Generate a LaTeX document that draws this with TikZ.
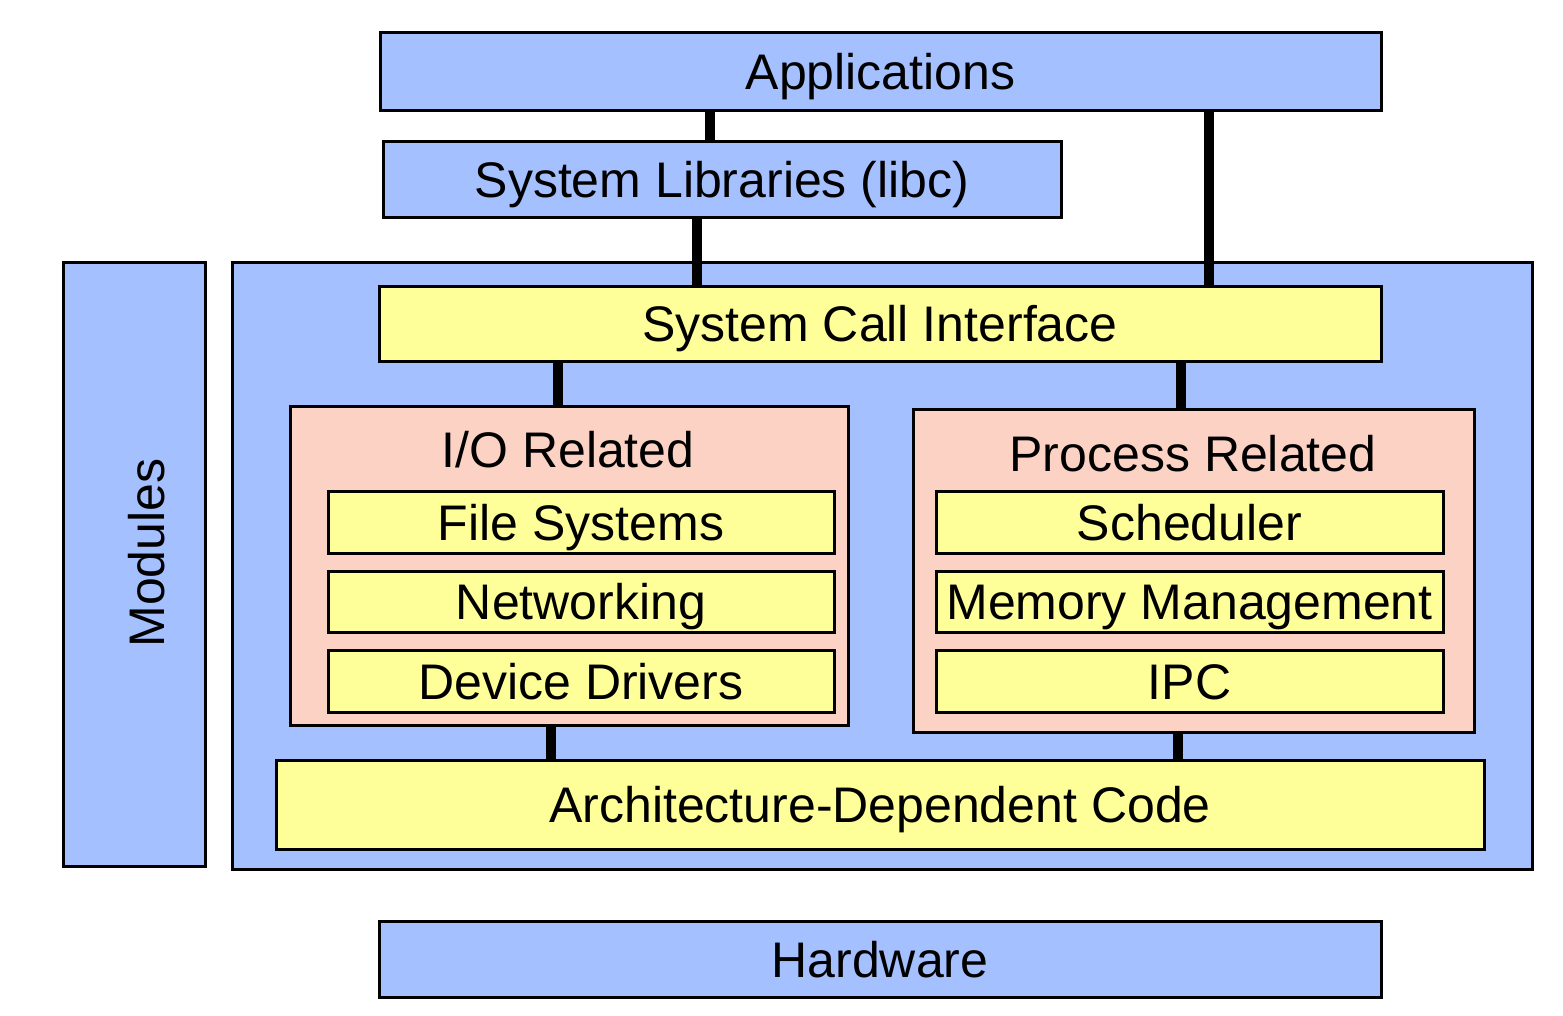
\documentclass[tikz,border=0pt]{standalone}
\usepackage{fontspec}
\setmainfont{Liberation Sans}
\usepackage{tikz}
\usetikzlibrary{positioning}
\definecolor{layerblue}{HTML}{A4C0FF}
\definecolor{groupsalmon}{HTML}{FCD2C4}
\definecolor{partyellow}{HTML}{FFFF99}

\begin{document}
\begin{tikzpicture}[x=1pt,y=-1pt,
    box/.style={draw=black,line width=3pt,inner sep=0pt,text height=36pt,text depth=0pt,font=\fontsize{50}{55}\selectfont},
    bluebox/.style={box,fill=layerblue},
    salmonbox/.style={box,fill=groupsalmon},
    yellowbox/.style={box,fill=partyellow},
    link/.style={line width=10pt,black}]
    \useasboundingbox (0,0) rectangle (1563,1015);
    % user space
    \node[bluebox,minimum width=1001pt,minimum height=78pt] (apps) at (880.5,71) {Applications};
    \node[bluebox,minimum width=678pt,minimum height=76pt] (libc) at (722,179) {System Libraries (libc)};
    % kernel
    \node[bluebox,minimum width=142pt,minimum height=604pt] (modules) at (134,564) {};
    \node[box,draw=none,rotate=90] (modlabel) at (146,553) {Modules};
    \node[bluebox,minimum width=1300pt,minimum height=607pt] (kernel) at (882,565.5) {};
    \node[yellowbox,minimum width=1002pt,minimum height=75pt] (sci) at (880,323.5) {System Call Interface};
    \node[salmonbox,minimum width=558pt,minimum height=319pt] (io) at (569,565.5) {};
    \node[box,draw=none] (iotitle) at (568,449) {I/O Related};
    \node[salmonbox,minimum width=561pt,minimum height=323pt] (proc) at (1193.5,570.5) {};
    \node[box,draw=none] (proctitle) at (1193,453) {Process Related};
    \node[yellowbox,minimum width=506pt,minimum height=62pt] (fs) at (581,522) {File Systems};
    \node[yellowbox,minimum width=506pt,minimum height=61pt] (net) at (581,601.5) {Networking};
    \node[yellowbox,minimum width=506pt,minimum height=62pt] (drv) at (581,681) {Device Drivers};
    \node[yellowbox,minimum width=507pt,minimum height=62pt] (sched) at (1189.5,522) {Scheduler};
    \node[yellowbox,minimum width=507pt,minimum height=61pt] (mm) at (1189.5,601.5) {Memory Management};
    \node[yellowbox,minimum width=507pt,minimum height=62pt] (ipc) at (1189.5,681) {IPC};
    \node[yellowbox,minimum width=1208pt,minimum height=89pt] (arch) at (880,804.5) {Architecture-Dependent Code};
    \node[bluebox,minimum width=1002pt,minimum height=76pt] (hw) at (880,959) {Hardware};
    % connections
    \draw[link] (710,0 |- apps.south) -- (710,0 |- libc.north);
    \draw[link] (697,0 |- libc.south) -- (697,0 |- sci.north);
    \draw[link] (1209,0 |- apps.south) -- (1209,0 |- sci.north);
    \draw[link] (558,0 |- sci.south) -- (558,0 |- io.north);
    \draw[link] (1181,0 |- sci.south) -- (1181,0 |- proc.north);
    \draw[link] (551,0 |- io.south) -- (551,0 |- arch.north);
    \draw[link] (1178,0 |- proc.south) -- (1178,0 |- arch.north);
\end{tikzpicture}
\end{document}
